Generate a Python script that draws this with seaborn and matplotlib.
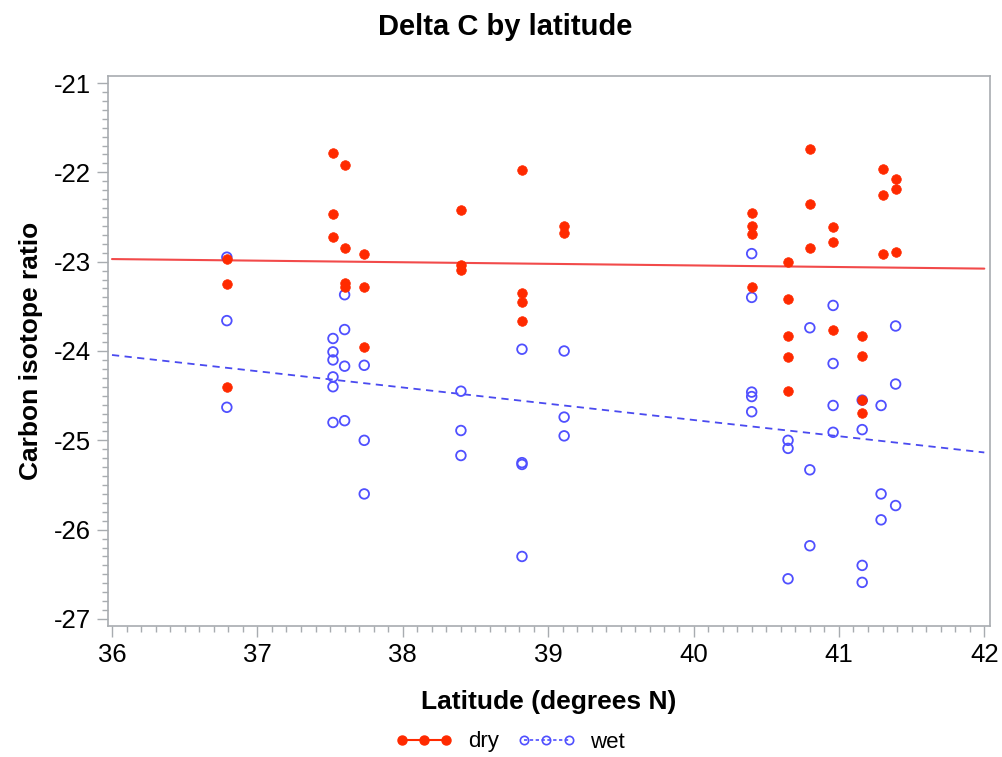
import matplotlib
matplotlib.use("Agg")
import matplotlib.pyplot as plt
from matplotlib.lines import Line2D
from matplotlib.ticker import MultipleLocator
import numpy as np
import pandas as pd
import seaborn as sns

# ---- data ----
lat_dry = [36.79, 36.79, 36.79,
           37.52, 37.52, 37.52,
           37.60, 37.60, 37.60, 37.60,
           37.735, 37.735, 37.735,
           38.40, 38.40, 38.40,
           38.82, 38.82, 38.82, 38.82,
           39.11, 39.11,
           40.40, 40.40, 40.40, 40.40,
           40.65, 40.65, 40.65, 40.65, 40.65,
           40.80, 40.80, 40.80,
           40.96, 40.96, 40.96,
           41.16, 41.16, 41.16, 41.16,
           41.30, 41.30, 41.30,
           41.39, 41.39, 41.39]
d13c_dry = [-22.97, -23.25, -24.40,
            -21.78, -22.47, -22.72,
            -21.92, -22.85, -23.24, -23.28,
            -22.91, -23.28, -23.95,
            -22.42, -23.04, -23.09,
            -21.97, -23.35, -23.45, -23.66,
            -22.60, -22.68,
            -22.46, -22.60, -22.69, -23.28,
            -23.00, -23.42, -23.83, -24.07, -24.45,
            -21.74, -22.35, -22.85,
            -22.61, -22.78, -23.77,
            -23.83, -24.06, -24.55, -24.69,
            -21.96, -22.25, -22.91,
            -22.08, -22.19, -22.89]

lat_wet = [36.79, 36.79, 36.79,
           37.52, 37.52, 37.52, 37.52, 37.52, 37.52,
           37.60, 37.60, 37.60, 37.60,
           37.735, 37.735, 37.735,
           38.40, 38.40, 38.40,
           38.82, 38.82, 38.82, 38.82,
           39.11, 39.11, 39.11,
           40.40, 40.40, 40.40, 40.40, 40.40,
           40.65, 40.65, 40.65,
           40.80, 40.80, 40.80,
           40.96, 40.96, 40.96, 40.96,
           41.16, 41.16, 41.16, 41.16,
           41.29, 41.29, 41.29,
           41.39, 41.39, 41.39]
d13c_wet = [-22.95, -23.66, -24.63,
            -23.86, -24.01, -24.10, -24.29, -24.40, -24.80,
            -23.37, -23.76, -24.17, -24.78,
            -24.16, -25.00, -25.60,
            -24.45, -24.89, -25.17,
            -23.98, -25.25, -25.27, -26.30,
            -24.00, -24.74, -24.95,
            -22.91, -23.40, -24.46, -24.51, -24.68,
            -25.00, -25.09, -26.55,
            -23.74, -25.33, -26.18,
            -23.49, -24.14, -24.61, -24.91,
            -24.55, -24.88, -26.40, -26.59,
            -24.61, -25.60, -25.89,
            -23.72, -24.37, -25.73]

x_ticks = [36, 37, 38, 39, 40, 41, 42]
y_ticks = [-27, -26, -25, -24, -23, -22, -21]
series_names = ["dry", "wet"]
title = "Delta C by latitude"
xlabel = "Latitude (degrees N)"
ylabel = "Carbon isotope ratio"

# ---- styling ----
RED_PT = "#FF2A00"
RED_LN = "#F24A4A"
BLUE_PT = "#5050FF"
BLUE_LN = "#4A4AF0"
GRAY = "#A8ACB0"

sns.set_style("white")
plt.rcParams["font.family"] = ["Liberation Sans", "DejaVu Sans"]
plt.rcParams["axes.unicode_minus"] = False
plt.rcParams["text.color"] = "black"
plt.rcParams["axes.labelcolor"] = "black"
plt.rcParams["xtick.color"] = "black"
plt.rcParams["ytick.color"] = "black"

df_dry = pd.DataFrame({"lat": lat_dry, "d13c": d13c_dry})
df_wet = pd.DataFrame({"lat": lat_wet, "d13c": d13c_wet})

fig = plt.figure(figsize=(10.03, 7.57), dpi=100)
ax = fig.add_axes([108 / 1003, 1 - 626 / 757, (990 - 108) / 1003, (626 - 76) / 757])

# regression lines across 36..42
ax.set_xlim(x_ticks[0], x_ticks[-1])
sns.regplot(data=df_dry, x="lat", y="d13c", scatter=False, ci=None, truncate=False,
            ax=ax, line_kws=dict(color=RED_LN, lw=1.5, ls="-"))
sns.regplot(data=df_wet, x="lat", y="d13c", scatter=False, ci=None, truncate=False,
            ax=ax, line_kws=dict(color=BLUE_LN, lw=1.3, ls=(0, (4, 3))))

sns.scatterplot(data=df_wet, x="lat", y="d13c", ax=ax, marker="o", s=48,
                facecolors="none", edgecolor=BLUE_PT, linewidth=1.3, zorder=3)
sns.scatterplot(data=df_dry, x="lat", y="d13c", ax=ax, marker="o", s=48,
                color=RED_PT, edgecolor=RED_PT, linewidth=0.5, zorder=4)

ax.set_xlim(36 - 4 / 145.4, 42 + 5.7 / 145.4)
ax.set_ylim(-27 - 7 / 89.3, -21 + 7 / 89.3)
ax.set_xticks(x_ticks)
ax.set_yticks(y_ticks)
ax.set_xticklabels([str(v) for v in x_ticks])
ax.set_yticklabels([str(v) for v in y_ticks])
ax.xaxis.set_minor_locator(MultipleLocator(0.1))
ax.yaxis.set_minor_locator(MultipleLocator(0.1))
ax.tick_params(which="major", direction="out", length=8, width=1, color=GRAY,
               labelsize=18.5, labelcolor="black", pad=4,
               bottom=True, left=True, top=False, right=False)
ax.tick_params(which="minor", direction="out", length=4, width=1, color=GRAY,
               bottom=True, left=True, top=False, right=False)
for sp in ax.spines.values():
    sp.set_visible(True)
    sp.set_color(GRAY)
    sp.set_linewidth(1.2)

ax.set_xlabel(xlabel, fontsize=19, fontweight="bold", labelpad=17, color="black")
ax.set_ylabel(ylabel, fontsize=19, fontweight="bold", labelpad=8, color="black")

fig.suptitle(title, x=505 / 1003, y=1 - 13 / 757, va="top",
             fontsize=21, fontweight="bold", color="black")

handles = [
    Line2D([], [], color=RED_PT, lw=1.5, ls="-", marker="o", markersize=6.5,
           markerfacecolor=RED_PT, markeredgecolor=RED_PT),
    Line2D([], [], color=BLUE_PT, lw=1.2, ls=(0, (2, 1.5)), marker="o", markersize=6.0,
           markerfacecolor="none", markeredgecolor=BLUE_PT, markeredgewidth=1.2),
]
fig.legend(handles, series_names, loc="center", bbox_to_anchor=(510 / 1003, 1 - 742 / 757),
           ncol=2, frameon=False, numpoints=3, handlelength=2.6, fontsize=16,
           columnspacing=0.85, handletextpad=0.68, labelcolor="black")

fig.savefig("out.png", dpi=100)
